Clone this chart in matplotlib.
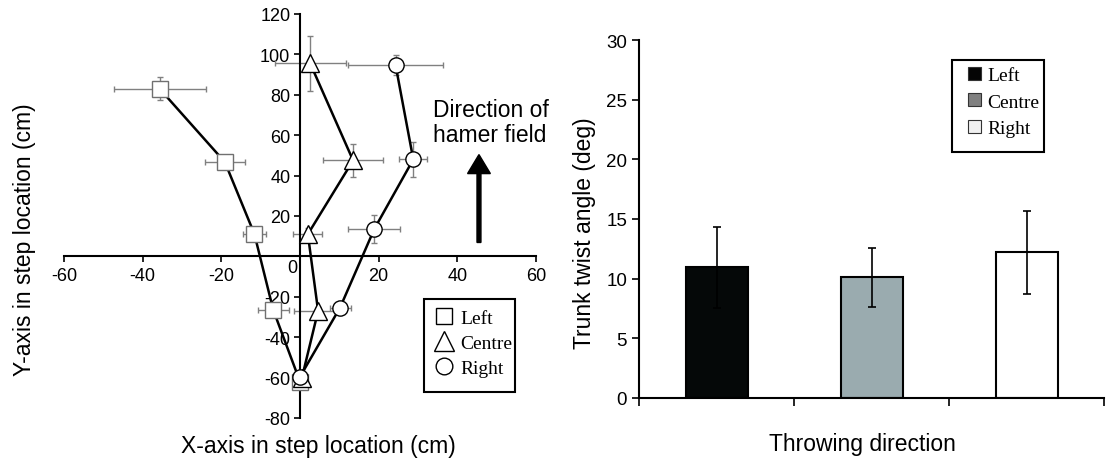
import numpy as np
import matplotlib
matplotlib.use("Agg")
import matplotlib.pyplot as plt
from matplotlib.lines import Line2D
from matplotlib.patches import Patch, Rectangle

plt.rcParams['font.family'] = ['Liberation Sans', 'DejaVu Sans']
plt.rcParams['axes.unicode_minus'] = False

# step locations (cm)
left_x = [-35.7, -19.1, -11.6, -6.8, 0.0]
left_y = [83.0, 46.7, 11.1, -26.5, -62.0]
left_xerr = [11.7, 5.0, 3.0, 3.9, 1.5]
left_yerr = [5.8, 2.0, 2.0, 2.0, 3.0]

centre_x = [2.6, 13.5, 2.0, 4.6, 0.5]
centre_y = [95.5, 47.5, 11.0, -27.0, -60.0]
centre_xerr = [9.0, 7.6, 3.7, 6.0, 1.0]
centre_yerr = [13.6, 8.3, 3.0, 2.0, 2.0]

right_x = [24.3, 28.8, 18.9, 10.2, 0.0]
right_y = [94.7, 48.0, 13.6, -25.3, -59.6]
right_xerr = [12.0, 3.6, 6.6, 2.7, 1.0]
right_yerr = [5.0, 8.8, 7.0, 2.0, 2.0]

# trunk twist angle (deg)
directions = ['Left', 'Centre', 'Right']
twist = [10.95, 10.1, 12.2]
twist_err = [3.4, 2.45, 3.45]
bar_colors = ['#050808', '#9aabaf', '#ffffff']
legend_colors = ['#050505', '#808080', '#f0f0f0']

W, H = 1110, 460
fig = plt.figure(figsize=(W / 100, H / 100), dpi=100)

# ---- left panel ----
ax1 = fig.add_axes([64 / W, 1 - 419 / H, 472 / W, 404 / H])
ax1.set_xlim(-60, 60)
ax1.set_ylim(-80, 120)
ax1.spines['left'].set_position(('data', 0))
ax1.spines['bottom'].set_position(('data', 0))
ax1.spines['top'].set_visible(False)
ax1.spines['right'].set_visible(False)
for s in ['left', 'bottom']:
    ax1.spines[s].set_linewidth(1.5)
xt = list(range(-60, 61, 20))
ax1.set_xticks(xt)
ax1.set_xticklabels(['' if v == 0 else str(v) for v in xt])
yt = list(range(-80, 121, 20))
ax1.set_yticks(yt)
ax1.set_yticklabels(['' if v == 0 else str(v) for v in yt])
ax1.tick_params(direction='out', length=4, width=1.2, labelsize=13)
ax1.tick_params(axis='y', pad=3)
# shared origin label sits just left of the vertical axis
ax1.annotate('0', xy=(0, 0), xytext=(-8, -11), textcoords='offset pixels',
             ha='center', va='center', fontsize=13)

series = [
    (left_x, left_y, left_xerr, left_yerr, 's', 11, '#707070', 'Left'),
    (centre_x, centre_y, centre_xerr, centre_yerr, '^', 13, 'black', 'Centre'),
    (right_x, right_y, right_xerr, right_yerr, 'o', 11, 'black', 'Right'),
]
for xs, ys, xe, ye, mk, ms, ec, lab in series:
    ax1.errorbar(xs, ys, xerr=xe, yerr=ye, fmt='none', ecolor='#808080',
                 elinewidth=1.0, capsize=2.5, capthick=1.0, zorder=2)
    ax1.plot(xs, ys, color='black', lw=1.8, zorder=3)
    ax1.plot(xs, ys, ls='none', marker=mk, ms=ms, mfc='white', mec=ec,
             mew=1.0, zorder=4)

ax1.arrow(45.5, 6.9, 0, 43.5, width=1.0, head_width=5.8, head_length=9.4,
          length_includes_head=True, color='black', zorder=3)
fig.text(433 / W, 1 - 123 / H, 'Direction of\nhamer field', fontsize=16.5,
         ha='left', va='center', linespacing=1.15)

fig.text(318 / W, 1 - 447 / H, 'X-axis in step location (cm)', fontsize=16.5,
         ha='center', va='center')
fig.text(25 / W, 1 - 240 / H, 'Y-axis in step location (cm)', fontsize=16.5,
         ha='center', va='center', rotation=90)

h1 = [Line2D([], [], ls='none', marker=m, ms=s, mfc='white', mec='black',
             mew=1.0) for m, s in [('s', 12), ('^', 14), ('o', 12)]]
fig.add_artist(Rectangle((424 / W, 1 - 393 / H), 91 / W, 93 / H,
                         transform=fig.transFigure, fill=False, lw=1.5,
                         ec='black'))
fig.legend(h1, directions, loc='upper left',
           bbox_to_anchor=(435 / W, 1 - 310 / H), frameon=False,
           borderpad=0, borderaxespad=0, handlelength=0.95,
           handletextpad=0.35, labelspacing=0.38,
           prop={'family': 'Liberation Serif', 'size': 14})

# ---- right panel ----
ax2 = fig.add_axes([639 / W, 1 - 399 / H, 465 / W, 358 / H])
pos = np.arange(len(directions)) + 0.5
ax2.bar(pos, twist, width=0.4, color=bar_colors, edgecolor='black',
        linewidth=1.5, zorder=2)
ax2.errorbar(pos, twist, yerr=twist_err, fmt='none', ecolor='black',
             elinewidth=1.2, capsize=3, capthick=1.2, zorder=3)
ax2.set_xlim(0, 3)
ax2.set_ylim(0, 30)
ax2.set_xticks([0, 1, 2, 3])
ax2.set_xticklabels([])
ax2.set_yticks(range(0, 31, 5))
ax2.spines['top'].set_visible(False)
ax2.spines['right'].set_visible(False)
for s in ['left', 'bottom']:
    ax2.spines[s].set_linewidth(1.5)
ax2.tick_params(direction='out', length=5, width=1.2, labelsize=13.5)
ax2.tick_params(axis='x', length=6)

fig.text(862 / W, 1 - 445 / H, 'Throwing direction', fontsize=16.5,
         ha='center', va='center')
fig.text(584 / W, 1 - 233 / H, 'Trunk twist angle (deg)', fontsize=16.5,
         ha='center', va='center', rotation=90)

h2 = [Patch(facecolor=c, edgecolor='#333333', lw=0.8) for c in legend_colors]
fig.add_artist(Rectangle((952 / W, 1 - 153 / H), 92 / W, 92 / H,
                         transform=fig.transFigure, fill=False, lw=1.5,
                         ec='black'))
fig.legend(h2, directions, loc='upper left',
           bbox_to_anchor=(968 / W, 1 - 68 / H), frameon=False,
           borderpad=0, borderaxespad=0, handlelength=0.65,
           handleheight=0.65, handletextpad=0.35, labelspacing=0.46,
           prop={'family': 'Liberation Serif', 'size': 14})

fig.savefig('out.png', dpi=100)
